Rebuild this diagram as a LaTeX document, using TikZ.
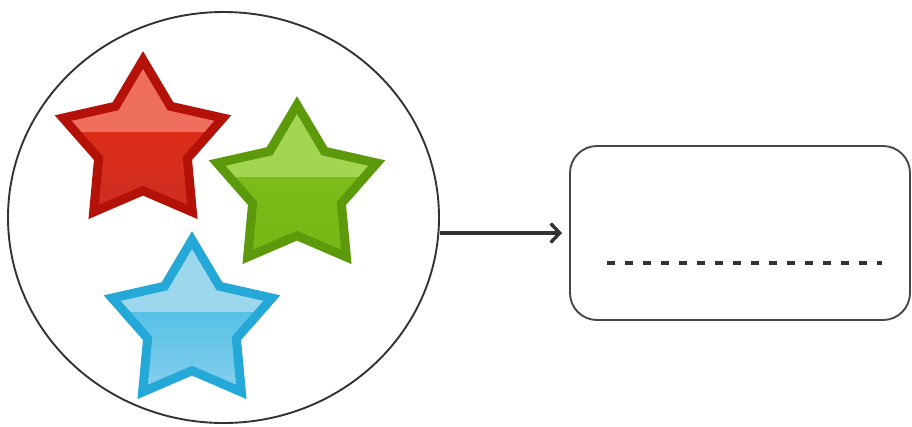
\documentclass[tikz,border=0pt]{standalone}
\usepackage{tikz}
\usetikzlibrary{positioning, arrows.meta,
shapes.geometric, % for the star and ellipse nodes
calc
}
\definecolor{redline}{HTML}{B41208}
\definecolor{redtop}{HTML}{EF6F5F}
\definecolor{redmid}{HTML}{EE2C12}
\definecolor{redbot}{HTML}{CC2E22}
\definecolor{greenline}{HTML}{5C9A0C}
\definecolor{greentop}{HTML}{A3D553}
\definecolor{greenmid}{HTML}{80C01E}
\definecolor{greenbot}{HTML}{76B716}
\definecolor{blueline}{HTML}{24A8D8}
\definecolor{bluetop}{HTML}{9DD7EE}
\definecolor{bluemid}{HTML}{2DB5E2}
\definecolor{bluebot}{HTML}{86CFEC}
\definecolor{ink}{HTML}{333333}
\tikzset{%
  gem/.style={star, star points=5, star point ratio=1.8, minimum size=168pt, inner sep=0pt, line width=9pt, miter limit=10}, % one star of the bag
  gloss/.style={path picture={\fill[#1] (path picture bounding box.north west) rectangle ([yshift=-72pt]path picture bounding box.north east);}},
  bag/.style={draw=ink, ellipse, minimum width=431pt, minimum height=411pt, inner sep=0pt, line width=1.9pt},
  tray/.style={draw=ink!90, rounded corners=27pt, minimum width=340pt, minimum height=174pt, line width=1.9pt},
  link/.style={draw=ink, -{Straight Barb[length=9pt, width=19pt]}, line width=3.4pt}
}

\begin{document}
\begin{tikzpicture}[x=1pt, y=-1pt]
\useasboundingbox (0,0) rectangle (912,426);

\node[bag] (bag) at (223.5,217.5) {};

\node[gem, draw=redline, top color=redmid, middle color=redmid, bottom color=redbot, gloss=redtop] (red) at (143,144) {};
\node[gem, draw=greenline, top color=greenmid, middle color=greenmid, bottom color=greenbot, gloss=greentop] (green) at (297,189) {};
\node[gem, draw=blueline, top color=bluemid, middle color=bluemid, bottom color=bluebot, gloss=bluetop] (blue) at (192,324) {};

\node[tray] (box) at (740,233) {};
\coordinate (dl) at (607,263);
\coordinate (dr) at (882,263);
\draw[ink, line width=3.8pt, dash pattern=on 8pt off 10pt] (dl) -- (dr);

\draw[link] (bag.east |- box.west) -- ([xshift=-7pt]box.west);

\end{tikzpicture}
\end{document}
